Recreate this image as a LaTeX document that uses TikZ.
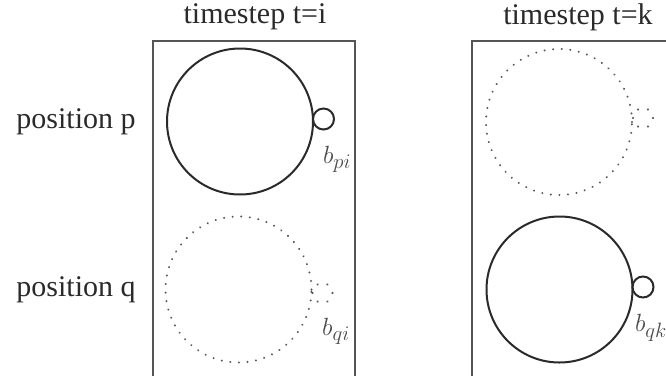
\documentclass[tikz,border=0pt]{standalone}
\usepackage{fontspec}
\setmainfont{Liberation Serif}
\definecolor{ink}{HTML}{2A2A2A}
\definecolor{boxc}{HTML}{555555}
\definecolor{dotc}{HTML}{555555}
\tikzset{
  big/.style={circle, draw=ink, line width=2pt, minimum size=146pt, inner sep=0pt},
  bigdot/.style={circle, draw=dotc, line width=2.2pt, minimum size=146pt, inner sep=0pt, line cap=round, dash pattern=on 0.01pt off 8.6pt},
  small/.style={circle, draw=ink, line width=2pt, minimum size=21pt, inner sep=0pt},
  smalldot/.style={circle, draw=dotc, line width=2.4pt, minimum size=20pt, inner sep=0pt, line cap=round, dash pattern=on 0.01pt off 10.4pt},
  frame/.style={draw=boxc, line width=1.4pt},
  lab/.style={font=\fontsize{30}{36}\selectfont, text=ink, inner sep=0pt},
  blab/.style={font=\fontsize{30}{36}\selectfont, text=ink!85, inner sep=0pt}
}
\begin{document}
\begin{tikzpicture}[x=1pt,y=-1pt]
\useasboundingbox (0,0) rectangle (666,375);
\coordinate (l1) at (153,376);
\coordinate (l2) at (153,41);
\coordinate (l3) at (355,41);
\coordinate (l4) at (355,376);
\coordinate (r1) at (472,376);
\coordinate (r2) at (472,41);
\coordinate (r3) at (667,41);
\draw[frame] (l1) -- (l2) -- (l3) -- (l4);
\draw[frame] (r1) -- (r2) -- (r3);
\node[lab] (ti) at (255,17) {timestep t=i};
\node[lab] (tk) at (578,17) {timestep t=k};
\node[lab] (pp) at (76,122) {position p};
\node[lab] (pq) at (76,290) {position q};
% left column
\node[big] (cpi) at (240,121.5) {};
\node[small] (spi) at (323.5,119) {};
\node[blab] (bpi) at (337,159) {$b_{pi}$};
\node[bigdot] (cqi) at (238.5,289.5) {};
\node[smalldot] (sqi) at (322.5,293) {};
\node[blab] (bqi) at (336,331) {$b_{qi}$};
% right column
\node[bigdot] (cpk) at (559,122) {};
\node[smalldot] (spk) at (643,118) {};
\node[big] (cqk) at (559.5,289.5) {};
\node[small] (sqk) at (643,287) {};
\node[blab] (bqk) at (651,328) {$b_{qk}$};
\end{tikzpicture}
\end{document}
